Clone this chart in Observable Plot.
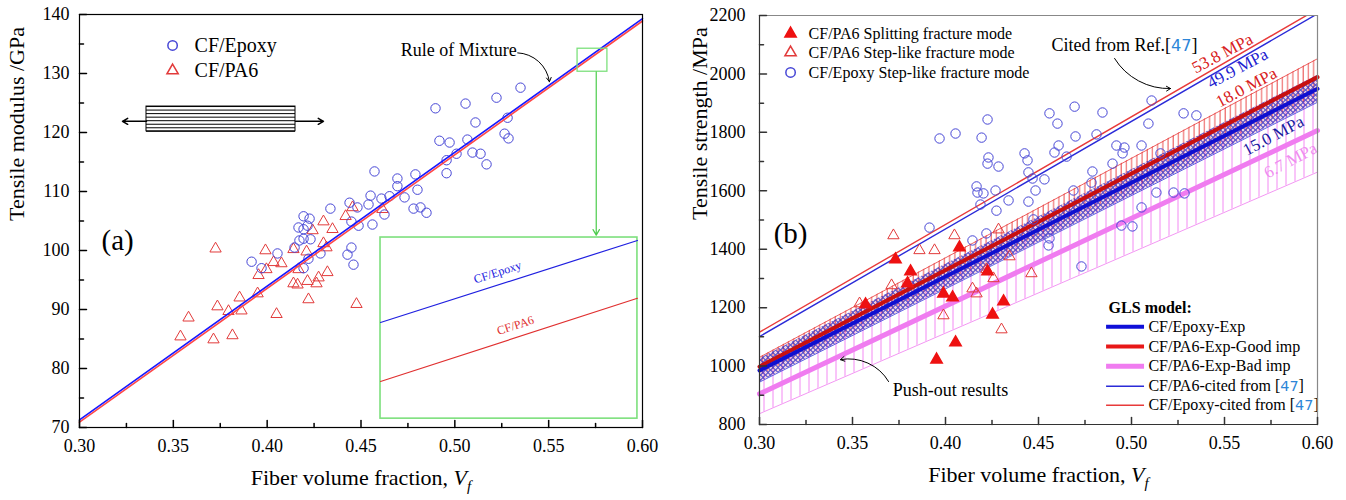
<!DOCTYPE html>
<html><head><meta charset="utf-8">
<script src="https://cdn.jsdelivr.net/npm/d3@7"></script>
<script src="https://cdn.jsdelivr.net/npm/@observablehq/plot@0.6"></script>
<style>
body{margin:0;background:#fff;}
#wrap{display:flex;width:1346px;height:500px;overflow:hidden;}
#wrap svg text{font-family:"Liberation Serif","Times New Roman",serif;}
</style></head><body><div id="wrap"></div>
<script>
// ---------------- shared axis data ----------------
const xTicks = [0.30, 0.35, 0.40, 0.45, 0.50, 0.55, 0.60];
const xMinor = [0.325, 0.375, 0.425, 0.475, 0.525, 0.575];

// ---------------- panel (a) data ----------------
const aYTicks = [70, 80, 90, 100, 110, 120, 130, 140];
const aYMinor = [75, 85, 95, 105, 115, 125, 135];
const romVf = [0.30, 0.60];
const romEpoxy = [71.3, 139.3];
const romPA6 = [70.9, 138.9];
const epoxyA = [
  [0.3917,98.1],[0.3970,97.0],[0.4055,99.5],[0.4146,100.5],[0.4172,101.7],[0.4194,102.0],[0.4231,101.9],
  [0.4167,103.9],[0.4194,103.6],[0.4215,104.2],[0.4194,105.8],[0.4226,105.4],[0.4194,97.0],[0.4220,98.6],
  [0.4284,99.5],[0.4337,107.1],[0.4439,108.1],[0.4481,107.3],[0.4449,104.9],[0.4487,104.2],[0.4449,100.5],
  [0.4428,99.3],[0.4460,97.6],[0.4540,107.8],[0.4551,109.3],[0.4609,108.8],[0.4652,109.2],[0.4625,106.1],
  [0.4561,104.4],[0.4572,113.4],[0.4694,112.2],[0.4694,110.9],[0.4732,109.0],[0.4790,112.9],[0.4801,110.3],
  [0.4780,107.1],[0.4817,107.3],[0.4849,106.4],[0.4956,115.3],[0.5009,116.4],[0.4956,113.1],[0.4897,124.1],
  [0.5057,124.9],[0.5222,125.9],[0.5350,127.6],[0.5110,121.7],[0.5281,122.5],[0.5265,119.8],[0.5286,119.0],
  [0.4918,118.6],[0.4972,118.3],[0.5067,118.8],[0.5094,116.6],[0.5137,116.4],[0.5169,114.6]
];
const pa6A = [
  [0.3581,88.6],[0.3538,85.4],[0.3714,84.9],[0.3725,100.3],[0.3735,90.5],[0.3815,85.6],[0.3794,89.7],
  [0.3853,92.0],[0.3863,89.8],[0.3949,92.7],[0.3954,95.8],[0.3996,96.8],[0.3991,100.0],[0.4034,98.0],
  [0.4076,97.8],[0.4050,89.2],[0.4140,100.2],[0.4167,96.8],[0.4140,94.4],[0.4162,94.2],[0.4210,99.8],
  [0.4215,94.8],[0.4263,94.4],[0.4274,95.4],[0.4220,91.7],[0.4321,96.3],[0.4455,107.3],[0.4418,105.8],
  [0.4614,107.0],[0.4300,104.9],[0.4348,103.6],[0.4242,103.4],[0.4300,101.2],[0.4316,100.5],[0.4476,90.9]
];
// inset (magnified view of the small box)
const zoomBoxVf = [0.5654, 0.5813], zoomBoxE = [130.3, 134.2];
const insetBoxVf = [0.4604, 0.5973], insetBoxE = [71.5, 102.2];
const insetEpoxy = [87.8, 101.7];
const insetPA6 = [77.8, 91.9];
// fibre sketch
const fiberVf = [0.3357, 0.4151];
const fiberRows = [120.2, 120.8, 121.4, 122.0, 122.6, 123.2, 123.8, 124.4];
const legendALabels = ["CF/Epoxy", "CF/PA6"];

// ---------------- panel (b) data ----------------
const bYTicks = [800, 1000, 1200, 1400, 1600, 1800, 2000, 2200];
const bYMinor = [900, 1100, 1300, 1500, 1700, 1900, 2100];
const bandVf = [0.30, 0.60];
const pinkMean = [905, 1806], pinkLow = [837, 1664], pinkHigh = [973, 1948];
const redMean = [998, 1989], redLow = [966, 1926], redHigh = [1030, 2052];
const blueMean = [985, 1949], blueLow = [945, 1903], blueHigh = [1025, 1995];
const citedRed = [1116, 2222], citedBlue = [1101, 2206];
const epoxyB = [
  [0.3968,1779],[0.4054,1796],[0.4226,1844],[0.4194,1782],[0.4231,1714],[0.4226,1693],[0.4285,1683],
  [0.4167,1615],[0.4172,1594],[0.4204,1591],[0.4188,1553],[0.4269,1601],[0.4339,1567],[0.4274,1532],
  [0.3914,1474],[0.4145,1430],[0.4220,1454],[0.4425,1728],[0.4441,1704],[0.4446,1663],[0.4468,1642],
  [0.4532,1639],[0.4484,1601],[0.4446,1563],[0.4559,1865],[0.4602,1830],[0.4694,1888],[0.4844,1868],
  [0.5108,1909],[0.5091,1830],[0.5280,1865],[0.5349,1858],[0.4699,1786],[0.4812,1793],[0.4608,1755],
  [0.4586,1731],[0.4651,1717],[0.4919,1755],[0.4962,1748],[0.4952,1728],[0.5054,1755],[0.4790,1666],
  [0.4785,1628],[0.4898,1693],[0.4688,1601],[0.5134,1594],[0.5226,1594],[0.5285,1591],[0.5054,1543],
  [0.4946,1481],[0.5005,1478],[0.4559,1437],[0.4554,1413],[0.4473,1502],[0.4731,1341],[0.5156,1728]
];
const pa6StepB = [
  [0.3720,1447],[0.4048,1447],[0.3860,1396],[0.3941,1396],[0.4285,1467],[0.3710,1276],[0.4145,1265],
  [0.4167,1248],[0.3989,1173],[0.4258,1300],[0.4220,1331],[0.4462,1317],[0.4301,1125],[0.3538,1214],[0.4344,1375]
];
const pa6SplitB = [
  [0.3731,1365],[0.3812,1324],[0.3796,1283],[0.4075,1406],[0.3989,1248],[0.4038,1235],[0.4312,1221],
  [0.4253,1176],[0.4054,1081],[0.3952,1022],[0.3570,1211],[0.4226,1324]
];
const legendBLabels = ["CF/PA6 Splitting fracture mode", "CF/PA6 Step-like fracture mode", "CF/Epoxy Step-like fracture mode"];
const glsLabels = ["CF/Epoxy-Exp", "CF/PA6-Exp-Good imp", "CF/PA6-Exp-Bad imp", "CF/PA6-cited from [47]", "CF/Epoxy-cited from [47]"];
const glsColors = ["#1010d8", "#e81818", "#f07cf0", "#2b2bd8", "#e83a3a"];
const glsWidths = [4, 4, 5, 1.6, 1.6];
const mpaLabels = ["53.8 MPa", "49.9 MPa", "18.0 MPa", "15.0 MPa", "6.7 MPa"];
const mpaColors = ["#d82020", "#2020d0", "#d82020", "#1a1aa0", "#f08cf0"];

// ---------------- helpers ----------------
const FONT = "Liberation Serif, Times New Roman, serif";
const tickUp = {draw(c, l) { c.moveTo(0, 0); c.lineTo(0, -l); }};
const tickRight = {draw(c, l) { c.moveTo(0, 0); c.lineTo(l, 0); }};
const fmt2 = d3.format(".2f");
const fmtInt = d => String(d);
const pts = (arr) => arr.map(([vf, v]) => ({vf, v}));
const seg = (ys) => bandVf.map((vf, i) => ({vf, v: ys[i]}));
const band = (lo, hi) => bandVf.map((vf, i) => ({vf, lo: lo[i], hi: hi[i]}));
const T = (data, opts) => Plot.text(data, {fontFamily: FONT, ...opts});

function axesMarks(yTicks, yMinor, col, yPad) {
  return [
    Plot.vector(xTicks, {x: d => d, frameAnchor: "bottom", length: 7, anchor: "start", shape: tickUp, stroke: col}),
    Plot.vector(xMinor, {x: d => d, frameAnchor: "bottom", length: 4, anchor: "start", shape: tickUp, stroke: col}),
    Plot.vector(yTicks, {y: d => d, frameAnchor: "left", length: 7, anchor: "start", shape: tickRight, stroke: col}),
    Plot.vector(yMinor, {y: d => d, frameAnchor: "left", length: 4, anchor: "start", shape: tickRight, stroke: col}),
    Plot.axisX({ticks: xTicks, tickSize: 0, tickPadding: 12, tickFormat: fmt2, label: null, fontSize: 18, fontFamily: FONT}),
    Plot.axisY({ticks: yTicks, tickSize: 0, tickPadding: yPad, tickFormat: fmtInt, label: null, fontSize: 18, fontFamily: FONT})
  ];
}

// ---------------- panel (a) ----------------
const plotA = Plot.plot({
  width: 673, height: 500,
  marginLeft: 79, marginRight: 31, marginTop: 14, marginBottom: 73,
  style: {fontFamily: FONT, fontSize: "18px", background: "white", color: "black", overflow: "visible"},
  x: {domain: [0.3, 0.6]},
  y: {domain: [70, 140]},
  marks: [
    Plot.dot(pts(pa6A), {x: "vf", y: "v", symbol: "triangle", r: 4.2, stroke: "#e23b3b", strokeWidth: 1, fill: "none"}),
    Plot.dot(pts(epoxyA), {x: "vf", y: "v", r: 4.7, stroke: "#4646d6", strokeWidth: 1, fill: "none"}),
    Plot.line(romVf.map((vf, i) => ({vf, v: romPA6[i]})), {x: "vf", y: "v", stroke: "#ff4848", strokeWidth: 1.6}),
    Plot.line(romVf.map((vf, i) => ({vf, v: romEpoxy[i]})), {x: "vf", y: "v", stroke: "#1818ff", strokeWidth: 1.6}),
    Plot.rect([0], {x1: zoomBoxVf[0], x2: zoomBoxVf[1], y1: zoomBoxE[0], y2: zoomBoxE[1], fill: "none", stroke: "#7de07d", strokeWidth: 1.3}),
    Plot.arrow([0], {x1: (zoomBoxVf[0] + zoomBoxVf[1]) / 2 + 0.002, y1: zoomBoxE[0], x2: (zoomBoxVf[0] + zoomBoxVf[1]) / 2 + 0.002, y2: insetBoxE[1] + 0.4, stroke: "#4ccc4c", strokeWidth: 1.2, headLength: 8}),
    Plot.rect([0], {x1: insetBoxVf[0], x2: insetBoxVf[1], y1: insetBoxE[0], y2: insetBoxE[1], fill: "white", stroke: "#7de07d", strokeWidth: 1.6}),
    Plot.line(insetBoxVf.map((vf, i) => ({vf, v: insetEpoxy[i]})), {x: "vf", y: "v", stroke: "#2020e0", strokeWidth: 1.2}),
    Plot.line(insetBoxVf.map((vf, i) => ({vf, v: insetPA6[i]})), {x: "vf", y: "v", stroke: "#e03030", strokeWidth: 1.2}),
    T(["CF/Epoxy"], {x: 0.5228, y: 96.3, rotate: -18, fill: "#2020e0", fontSize: 12}),
    T(["CF/PA6"], {x: 0.5323, y: 87.3, rotate: -18, fill: "#e03030", fontSize: 12}),
    T(["Rule of Mixture"], {x: 0.5330, y: 133.9, textAnchor: "end", fontSize: 18}),
    Plot.arrow([0], {x1: 0.5335, y1: 133.5, x2: 0.5504, y2: 128.6, bend: 40, stroke: "black", strokeWidth: 1, headLength: 7}),
    Plot.dot([0], {x: 0.3496, y: 134.75, r: 4.7, stroke: "#4646d6", fill: "none"}),
    Plot.dot([0], {x: 0.3496, y: 130.5, symbol: "triangle", r: 4.2, stroke: "#e23b3b", fill: "none"}),
    T(legendALabels, {x: 0.3613, y: (d, i) => [134.75, 130.5][i], textAnchor: "start", fontSize: 20}),
    Plot.rect([0], {x1: fiberVf[0], x2: fiberVf[1], y1: fiberRows[0], y2: fiberRows[fiberRows.length - 1], fill: "none", stroke: "black", strokeWidth: 1}),
    Plot.ruleY(fiberRows, {y: d => d, x1: fiberVf[0], x2: fiberVf[1], stroke: "black", strokeWidth: 1}),
    Plot.arrow([0], {x1: fiberVf[0], y1: 121.9, x2: 0.3229, y2: 121.9, stroke: "black", headLength: 6}),
    Plot.arrow([0], {x1: fiberVf[1], y1: 121.9, x2: 0.4300, y2: 121.9, stroke: "black", headLength: 6}),
    T(["(a)"], {x: 0.3203, y: 101.7, fontSize: 29}),
    Plot.frame({stroke: "black", strokeWidth: 1.2}),
    ...axesMarks(aYTicks, aYMinor, "black", 10),
    T(["Tensile modulus /GPa"], {frameAnchor: "left", dx: -63, rotate: -90, fontSize: 22}),
    T(["Fiber volume fraction, Vf"], {frameAnchor: "bottom", dy: 57, fontSize: 22})
  ]
});

// ---------------- panel (b) ----------------
const plotB = Plot.plot({
  width: 673, height: 500,
  marginLeft: 86, marginRight: 29, marginTop: 15, marginBottom: 76,
  style: {fontFamily: FONT, fontSize: "18px", background: "white", color: "black", overflow: "visible"},
  x: {domain: [0.3, 0.6]},
  y: {domain: [800, 2200]},
  marks: [
    Plot.areaY(band(pinkLow, pinkHigh), {x: "vf", y1: "lo", y2: "hi", fill: "url(#hPink)"}),
    Plot.line(seg(pinkLow), {x: "vf", y: "v", stroke: "#f07cf0", strokeWidth: 0.8}),
    Plot.areaY(band(redLow, redHigh), {x: "vf", y1: "lo", y2: "hi", fill: "url(#hRed)"}),
    Plot.line(seg(redHigh), {x: "vf", y: "v", stroke: "#e83a3a", strokeWidth: 0.8}),
    Plot.areaY(band(blueLow, blueHigh), {x: "vf", y1: "lo", y2: "hi", fill: "url(#hBlue)"}),
    Plot.line(seg(blueLow), {x: "vf", y: "v", stroke: "#3a3ad8", strokeWidth: 0.8}),
    Plot.line(seg(pinkMean), {x: "vf", y: "v", stroke: "#f07cf0", strokeWidth: 5}),
    Plot.line(seg(redMean), {x: "vf", y: "v", stroke: "#c81010", strokeWidth: 4}),
    Plot.line(seg(blueMean), {x: "vf", y: "v", stroke: "#1010d0", strokeWidth: 4}),
    Plot.line(seg(citedRed), {x: "vf", y: "v", stroke: "#e83a3a", strokeWidth: 1.4, clip: true}),
    Plot.line(seg(citedBlue), {x: "vf", y: "v", stroke: "#2b2bd8", strokeWidth: 1.4, clip: true}),
    Plot.dot(pts(epoxyB), {x: "vf", y: "v", r: 4.7, stroke: "#4646d6", strokeWidth: 1, fill: "none"}),
    Plot.dot(pts(pa6StepB), {x: "vf", y: "v", symbol: "triangle", r: 4.2, stroke: "#e23b3b", strokeWidth: 1, fill: "none"}),
    Plot.dot(pts(pa6SplitB), {x: "vf", y: "v", symbol: "triangle", r: 4.2, stroke: "#ee1111", fill: "#ee1111"}),
    T(mpaLabels, {x: (d, i) => [0.5489, 0.5570, 0.5618, 0.5763, 0.5855][i], y: (d, i) => [2070, 2019, 1954, 1789, 1704][i],
      rotate: -28, fill: (d, i) => mpaColors[i], fontSize: 17}),
    T(["Cited from Ref.[47]"], {x: 0.4570, y: 2097, textAnchor: "start", fontSize: 18}),
    Plot.arrow([0], {x1: 0.4909, y1: 2053, x2: 0.5210, y2: 1950, bend: -30, stroke: "black", strokeWidth: 1, headLength: 7}),
    T(["Push-out results"], {x: 0.3716, y: 916, textAnchor: "start", fontSize: 18}),
    Plot.arrow([0], {x1: 0.3694, y1: 947, x2: 0.3435, y2: 1022, bend: -35, stroke: "black", strokeWidth: 1, headLength: 7}),
    Plot.dot([0], {x: 0.3167, y: 2138, symbol: "triangle", r: 4.2, stroke: "#ee1111", fill: "#ee1111"}),
    Plot.dot([0], {x: 0.3167, y: 2073, symbol: "triangle", r: 4.2, stroke: "#e23b3b", fill: "none"}),
    Plot.dot([0], {x: 0.3167, y: 2005, r: 4.7, stroke: "#4646d6", fill: "none"}),
    T(legendBLabels, {x: 0.3264, y: (d, i) => [2138, 2073, 2005][i], textAnchor: "start", fontSize: 16}),
    T(["GLS model:"], {x: 0.4877, y: 1200, textAnchor: "start", fontSize: 16, fontWeight: "bold"}),
    ...glsLabels.map((lab, i) => Plot.ruleY([[1135, 1067, 999, 931, 866][i]], {y: d => d, x1: 0.4866, x2: 0.5070, stroke: glsColors[i], strokeWidth: glsWidths[i]})),
    T(glsLabels, {x: 0.5091, y: (d, i) => [1135, 1067, 999, 931, 866][i], textAnchor: "start", fontSize: 16}),
    T(["(b)"], {x: 0.3167, y: 1454, fontSize: 29}),
    Plot.ruleY([2200], {stroke: "#888", strokeWidth: 1.2}),
    Plot.ruleX([0.6], {stroke: "#888", strokeWidth: 1.2}),
    Plot.ruleY([800], {stroke: "#333", strokeWidth: 1.2}),
    Plot.ruleX([0.3], {stroke: "#333", strokeWidth: 1.2}),
    ...axesMarks(bYTicks, bYMinor, "#333", 14),
    T(["Tensile strength /MPa"], {frameAnchor: "left", dx: -60, rotate: -90, fontSize: 22}),
    T(["Fiber volume fraction, Vf"], {frameAnchor: "bottom", dy: 57, fontSize: 22})
  ]
});

const defs = `<defs>
<pattern id="hRed" patternUnits="userSpaceOnUse" width="5.2" height="20"><line x1="1" y1="0" x2="1" y2="20" stroke="#e83a3a" stroke-width="0.9"/></pattern>
<pattern id="hPink" patternUnits="userSpaceOnUse" width="9" height="20"><line x1="1" y1="0" x2="1" y2="20" stroke="#f27cf2" stroke-width="0.9"/></pattern>
<pattern id="hBlue" patternUnits="userSpaceOnUse" width="5" height="5"><rect width="5" height="5" fill="#c0306a" fill-opacity="0.22"/><circle cx="2.5" cy="2.5" r="2" fill="none" stroke="#2a2ac8" stroke-width="0.95"/></pattern>
</defs>`;
plotB.insertAdjacentHTML("afterbegin", defs);

function richText(svg) {
  svg.querySelectorAll("text").forEach(t => {
    const s = t.textContent;
    if (s === "Fiber volume fraction, Vf") {
      t.innerHTML = 'Fiber volume fraction, <tspan font-style="italic">V</tspan><tspan font-style="italic" font-size="15" dy="6">f</tspan>';
    } else if (s.includes("[47]")) {
      t.innerHTML = s.replace("[47]", '[<tspan fill="#2d86d8" font-family="DejaVu Sans, sans-serif" font-size="0.9em">47</tspan>]');
    }
  });
}
richText(plotA); richText(plotB);
const wrap = document.getElementById("wrap");
wrap.appendChild(plotA); wrap.appendChild(plotB);
</script></body></html>
